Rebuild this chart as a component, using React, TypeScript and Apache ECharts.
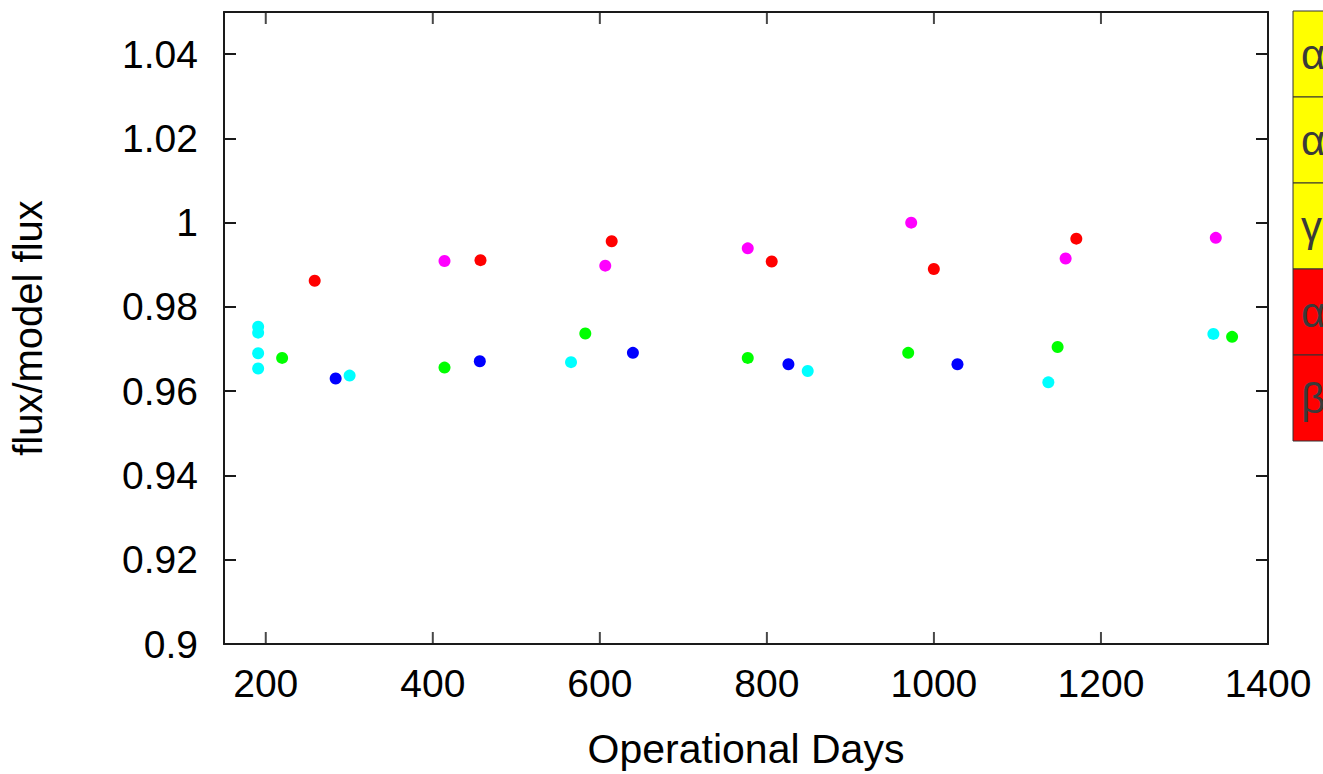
import React, { useEffect, useRef } from "react";
import * as echarts from "echarts";

// Operational days / flux ratio per source group
const cyanPts: [number, number][] = [
  [190.9, 0.9753], [190.9, 0.9739], [190.9, 0.969], [190.9, 0.9654],
  [300.4, 0.9637], [565.5, 0.9669], [848.9, 0.9648], [1137, 0.9621], [1334.6, 0.9736],
];
const greenPts: [number, number][] = [
  [219.6, 0.9679], [414, 0.9656], [582.6, 0.9737], [777.1, 0.9679],
  [969.2, 0.9691], [1148.1, 0.9705], [1357, 0.9729],
];
const bluePts: [number, number][] = [
  [283.7, 0.963], [456.3, 0.9671], [639.6, 0.9691], [825.8, 0.9664], [1028.2, 0.9664],
];
const redPts: [number, number][] = [
  [258.6, 0.9862], [457.1, 0.9911], [614.2, 0.9956], [805.8, 0.9908], [999.9, 0.989], [1170.5, 0.9962],
];
const magentaPts: [number, number][] = [
  [414, 0.9909], [606.5, 0.9898], [777.1, 0.9939], [972.8, 1.0], [1157.7, 0.9915], [1337.5, 0.9964],
];

const xTicks = [200, 400, 600, 800, 1000, 1200, 1400];
const legendLabels = ["α", "α", "γ", "α", "β"];
const legendColors = ["#ffff00", "#ffff00", "#ffff00", "#ff0000", "#ff0000"];

const FONT = "'Liberation Sans', Arial, Helvetica, sans-serif";

export default function App() {
  const ref = useRef<HTMLDivElement>(null);
  useEffect(() => {
    if (!ref.current) return;
    document.body.style.margin = "0";
    const chart = echarts.init(ref.current, undefined, { renderer: "svg", width: 1323, height: 774 });
    const axisLineStyle = { color: "#1a1a1a", width: 2 };
    const mk = (name: string, data: [number, number][], color: string) => ({
      type: "scatter",
      name,
      data,
      symbol: "circle",
      symbolSize: 12,
      itemStyle: { color, opacity: 1 },
      xAxisIndex: 0,
      yAxisIndex: 0,
      z: 5,
    });
    const legendGraphics: any[] = [];
    legendLabels.forEach((lab, i) => {
      const top = 11 + i * 86;
      legendGraphics.push({
        type: "rect",
        shape: { x: 1293, y: top, width: 60, height: 86 },
        style: { fill: legendColors[i], stroke: "#333", lineWidth: 1 },
      });
      legendGraphics.push({
        type: "text",
        x: 1301,
        y: top + 43,
        style: {
          text: lab,
          fill: "#3a3a3a",
          font: `42px ${FONT}`,
          verticalAlign: "middle",
          align: "left",
        },
      });
    });
    chart.setOption({
      animation: false,
      backgroundColor: "#ffffff",
      textStyle: { fontFamily: FONT },
      grid: { left: 222, top: 12, width: 1046, height: 640, containLabel: false },
      xAxis: [
        {
          type: "value",
          min: 150,
          max: 1400,
          interval: 50,
          position: "bottom",
          name: "Operational Days",
          nameLocation: "middle",
          nameGap: 84,
          nameTextStyle: { fontSize: 41, color: "#000", fontFamily: FONT },
          axisLine: { show: true, lineStyle: axisLineStyle },
          axisTick: { show: false },
          splitLine: { show: false },
          axisLabel: {
            fontSize: 39,
            color: "#000",
            margin: 20,
            fontFamily: FONT,
            formatter: (v: number) => (xTicks.indexOf(Math.round(v)) >= 0 ? String(Math.round(v)) : ""),
          },
        },
        {
          type: "value",
          min: 150,
          max: 1400,
          interval: 50,
          position: "top",
          axisLine: { show: true, lineStyle: axisLineStyle },
          axisTick: { show: false },
          axisLabel: { show: false },
          splitLine: { show: false },
        },
      ],
      yAxis: [
        {
          type: "value",
          min: 0.9,
          max: 1.05,
          interval: 0.02,
          position: "left",
          name: "flux/model flux",
          nameLocation: "middle",
          nameGap: 176,
          nameRotate: 90,
          nameTextStyle: { fontSize: 40, color: "#000", fontFamily: FONT },
          axisLine: { show: true, lineStyle: axisLineStyle },
          axisTick: { show: true, inside: true, length: 12, lineStyle: axisLineStyle },
          splitLine: { show: false },
          axisLabel: { fontSize: 39, color: "#000", margin: 26, showMaxLabel: false, fontFamily: FONT },
        },
        {
          type: "value",
          min: 0.9,
          max: 1.05,
          interval: 0.02,
          position: "right",
          axisLine: { show: true, lineStyle: axisLineStyle },
          axisTick: { show: true, inside: true, length: 12, lineStyle: axisLineStyle },
          splitLine: { show: false },
          axisLabel: { show: false },
        },
      ],
      series: [
        mk("cyan", cyanPts, "#00ffff"),
        mk("green", greenPts, "#00ff00"),
        mk("blue", bluePts, "#0000ff"),
        mk("red", redPts, "#ff0000"),
        mk("magenta", magentaPts, "#ff00ff"),
        {
          type: "scatter",
          name: "xticks-bottom",
          data: xTicks.map((t) => [t, 0.9]),
          symbol: "rect",
          symbolSize: [2, 12],
          symbolOffset: [0, -6],
          itemStyle: { color: "#1a1a1a" },
          silent: true,
          z: 3,
        },
        {
          type: "scatter",
          name: "xticks-top",
          data: xTicks.map((t) => [t, 1.05]),
          symbol: "rect",
          symbolSize: [2, 12],
          symbolOffset: [0, 6],
          itemStyle: { color: "#1a1a1a" },
          silent: true,
          z: 3,
        },
      ],
      graphic: legendGraphics,
    });
    return () => chart.dispose();
  }, []);
  return (
    <div
      ref={ref}
      style={{ position: "fixed", left: 0, top: 0, width: 1323, height: 774, background: "#fff" }}
    />
  );
}
